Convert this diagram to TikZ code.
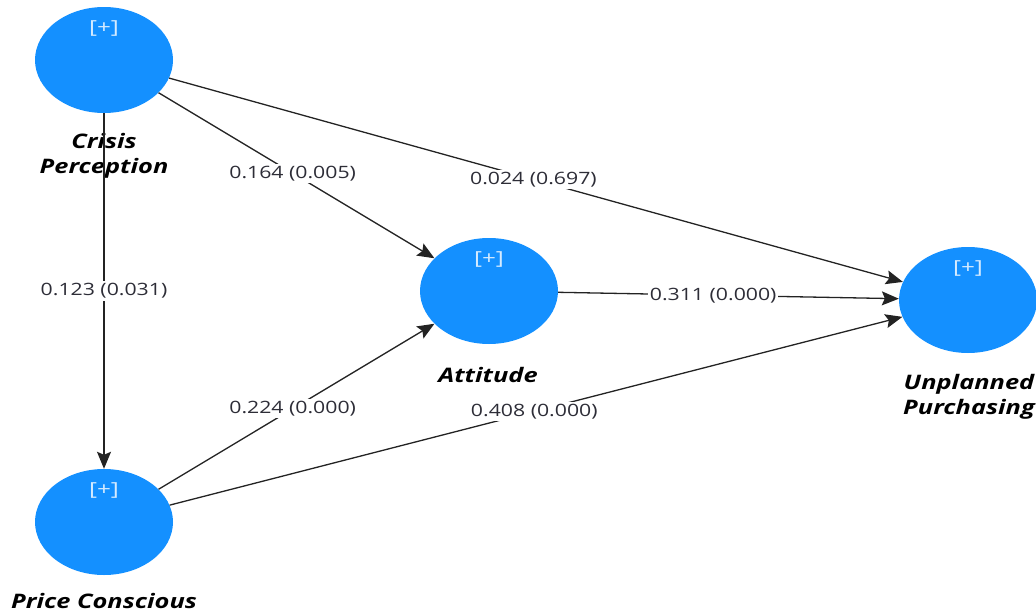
\documentclass[tikz,border=0pt]{standalone}
\usepackage{fontspec}
\setmainfont{Open Sans}
\newfontfamily\coeffont{Open Sans}[FakeStretch=1.25]
\newfontfamily\namefont{Open Sans}[FakeStretch=1.27]
\newfontfamily\plusfont{Open Sans}[FakeStretch=1.35]
\usetikzlibrary{arrows.meta,calc,shapes.geometric}
\definecolor{lvblue}{RGB}{20,144,255}
\definecolor{edgegray}{RGB}{35,35,35}
\definecolor{coeftext}{RGB}{45,45,55}

\begin{document}
\begin{tikzpicture}[x=1pt,y=-1pt,
  construct/.style={ellipse, fill=lvblue, minimum width=138pt, minimum height=106pt, inner sep=0pt},
  link/.style={draw=edgegray, line width=1.3pt, -{Stealth[length=17pt,width=14pt,inset=3pt]}},
  coef/.style={fill=white, inner sep=2pt, font=\coeffont\fontsize{17}{19}\selectfont, text=coeftext},
  cname/.style={font=\namefont\fontsize{20}{25}\selectfont\bfseries\itshape, align=center},
  plus/.style={font=\plusfont\fontsize{18}{20}\selectfont, text=white!82!lvblue}
]
\useasboundingbox (0,0) rectangle (1036,613);

% latent variables
\node[construct] (cp)  at (104,60)  {};
\node[construct] (att) at (489,291) {};
\node[construct] (up)  at (968,300) {};
\node[construct] (pc)  at (104,522) {};

% expand markers
\node[plus] (cpplus)  at (104,28)  {[+]};
\node[plus] (attplus) at (489,259) {[+]};
\node[plus] (upplus)  at (968,268) {[+]};
\node[plus] (pcplus)  at (104,490) {[+]};

% construct names
\node[cname] (cpname)  at (104,156) {Crisis\\Perception};
\node[cname] (attname) at (488,375) {Attitude};
\node[cname] (upname)  at (969,397) {Unplanned\\Purchasing};
\node[cname, anchor=base] (pcname) at (104,608) {Price Conscious};

% structural paths
\draw[link] (cp)  -- (pc);
\draw[link] (cp)  -- (att);
\draw[link] (cp)  -- (up);
\draw[link] (att) -- (up);
\draw[link] (pc)  -- (att);
\draw[link] (pc)  -- (up);

% path coefficients (p-values)
\node[coef] (c1) at ($(cp)!0.5!(pc)$)    {0.123 (0.031)};
\node[coef] (c2) at ($(cp)!0.49!(att)$)  {0.164 (0.005)};
\node[coef] (c3) at ($(cp)!0.497!(up)$)  {0.024 (0.697)};
\node[coef] (c4) at ($(att)!0.468!(up)$) {0.311 (0.000)};
\node[coef] (c5) at ($(pc)!0.49!(att)$)  {0.224 (0.000)};
\node[coef] (c6) at ($(pc)!0.498!(up)$)  {0.408 (0.000)};
\end{tikzpicture}
\end{document}
